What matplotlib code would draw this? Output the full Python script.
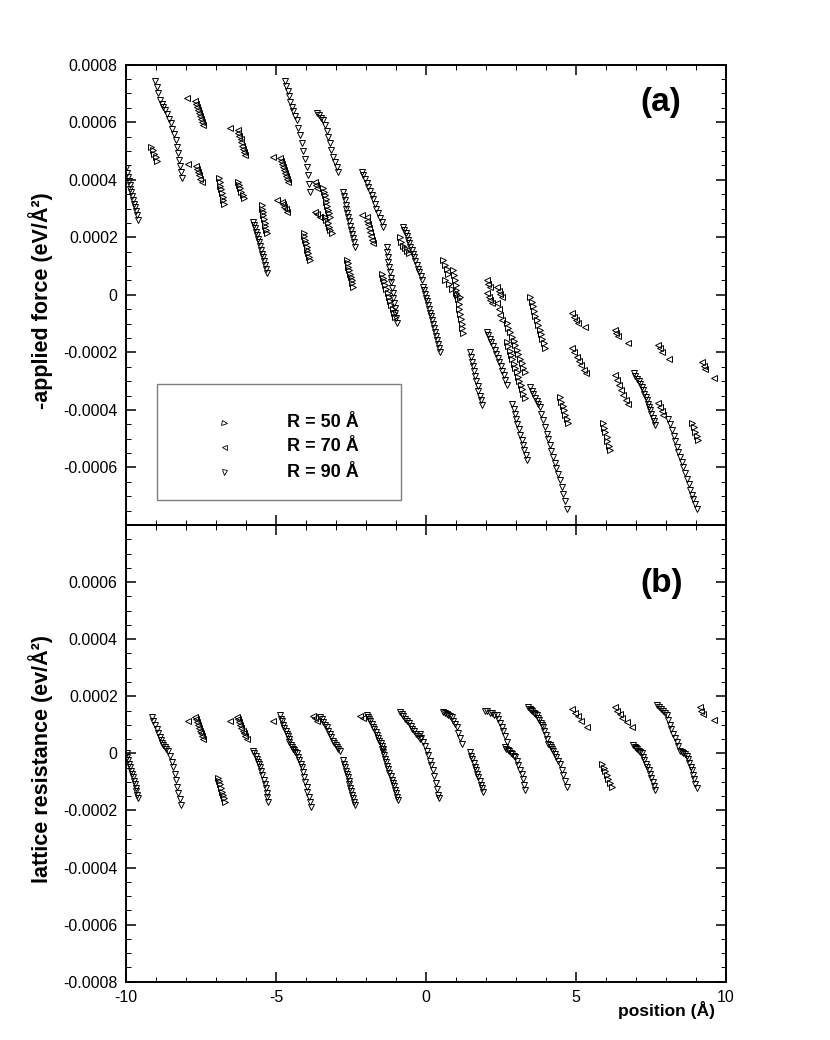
import matplotlib
matplotlib.use("Agg")
import matplotlib.pyplot as plt
from matplotlib.ticker import MultipleLocator, FuncFormatter
from matplotlib.patches import Rectangle

plt.rcParams['font.family'] = ['Liberation Sans', 'DejaVu Sans']

# values; y given in units of 1e-4 eV/A^2
YUNIT = 1e-4

# ---------------- (a) -applied force ----------------
top_r50_x = [
    -9.15, -9.10, -9.05, -9.00, -8.95,
    -6.90, -6.88, -6.85, -6.83, -6.80, -6.78, -6.75, -6.73,
    -6.27, -6.23, -6.19, -6.15, -6.11, -6.07,
    -5.48, -5.46, -5.44, -5.42, -5.40, -5.37, -5.35, -5.33, -5.31,
    -4.07, -4.05, -4.02, -4.00, -3.97, -3.95, -3.92, -3.90, -3.87,
    -3.43, -3.40, -3.37, -3.34, -3.32, -3.29, -3.26, -3.23, -3.20,
    -3.37, -3.32, -3.28, -3.23, -3.19, -3.14,
    -2.64, -2.61, -2.59, -2.56, -2.53, -2.50, -2.48, -2.45, -2.42,
    -1.48, -1.44, -1.40, -1.36, -1.32, -1.28, -1.23, -1.19, -1.15, -1.11, -1.07, -1.03,
    -0.87, -0.82, -0.77, -0.70, -0.62, -0.55,
    0.58, 0.63, 0.69, 0.74,
    0.63, 0.76, 0.88, 1.01, 1.13,
    0.91, 0.94, 0.96, 0.99, 1.01, 1.04, 1.06, 1.09, 1.11, 1.14, 1.16, 1.19, 1.21, 1.24,
    2.70, 2.75, 2.81, 2.86, 2.92, 2.97, 3.03, 3.08, 3.14, 3.19, 3.25, 3.30,
    2.70, 2.75, 2.79, 2.84, 2.88, 2.93, 2.97, 3.02, 3.06, 3.11, 3.16, 3.21, 3.25, 3.30,
    3.47, 3.52, 3.56, 3.61, 3.65, 3.70, 3.74, 3.79, 3.83, 3.88, 3.92, 3.97,
    4.47, 4.51, 4.56, 4.60, 4.64, 4.69, 4.73,
    5.90, 5.94, 5.98, 6.02, 6.05, 6.09, 6.13,
    8.87, 8.92, 8.97, 9.02, 9.07,
]
top_r50_y = [
    5.15, 5.03, 4.90, 4.78, 4.65,
    4.06, 3.93, 3.80, 3.67, 3.54, 3.41, 3.28, 3.15,
    3.92, 3.81, 3.70, 3.58, 3.47, 3.36,
    3.12, 3.00, 2.88, 2.76, 2.64, 2.51, 2.39, 2.27, 2.15,
    2.15, 2.03, 1.91, 1.79, 1.68, 1.56, 1.44, 1.32, 1.20,
    3.71, 3.59, 3.46, 3.34, 3.21, 3.09, 2.96, 2.84, 2.71,
    2.71, 2.60, 2.49, 2.37, 2.26, 2.15,
    1.20, 1.09, 0.97, 0.86, 0.74, 0.63, 0.51, 0.40, 0.28,
    0.74, 0.60, 0.47, 0.33, 0.19, 0.06, -0.08, -0.22, -0.35, -0.49, -0.62, -0.76,
    2.02, 1.85, 1.70, 1.62, 1.52, 1.44,
    1.21, 1.05, 0.90, 0.74,
    0.51, 0.37, 0.22, 0.07, -0.07,
    0.86, 0.69, 0.52, 0.35, 0.18, 0.01, -0.15, -0.32, -0.49, -0.66, -0.83, -1.00, -1.17, -1.34,
    -0.99, -1.14, -1.30, -1.45, -1.60, -1.76, -1.91, -2.07, -2.22, -2.37, -2.53, -2.68,
    -1.64, -1.79, -1.94, -2.09, -2.24, -2.39, -2.54, -2.69, -2.84, -2.99, -3.14, -3.29, -3.44, -3.59,
    -0.08, -0.24, -0.40, -0.56, -0.72, -0.88, -1.05, -1.21, -1.37, -1.53, -1.69, -1.85,
    -3.56, -3.71, -3.86, -4.01, -4.16, -4.31, -4.46,
    -4.46, -4.62, -4.77, -4.93, -5.09, -5.24, -5.40,
    -4.46, -4.61, -4.76, -4.90, -5.05,
]

top_r70_x = [
    -7.97, -7.70, -7.67, -7.63, -7.60, -7.57, -7.53, -7.50, -7.47, -7.43,
    -7.93, -7.67, -7.63, -7.59, -7.56, -7.52, -7.48,
    -6.53, -6.28, -6.25, -6.22, -6.18, -6.15, -6.12, -6.09, -6.06, -6.03,
    -5.10, -4.87, -4.84, -4.80, -4.77, -4.74, -4.70, -4.67, -4.63, -4.60,
    -4.98, -4.81, -4.77, -4.72, -4.68, -4.64,
    -3.70, -3.67, -3.63,
    -3.70, -3.62, -3.53,
    -2.14, -1.98, -1.95, -1.92, -1.89, -1.85, -1.82, -1.79, -1.76,
    2.03, 2.08, 2.13,
    2.03, 2.09, 2.14, 2.20,
    2.37, 2.42, 2.48, 2.53,
    2.37, 2.42, 2.48, 2.53,
    4.87, 4.93, 5.00, 5.07, 5.30,
    4.87, 4.95, 5.03, 5.10, 5.18, 5.26, 5.33,
    6.30, 6.35, 6.41, 6.74,
    6.30, 6.37, 6.44, 6.51, 6.58, 6.66, 6.73,
    7.73, 7.79, 7.85, 8.10,
    7.73, 7.79, 7.85, 7.91,
    9.20, 9.25, 9.30, 9.60,
]
top_r70_y = [
    6.84, 6.75, 6.64, 6.54, 6.43, 6.33, 6.22, 6.12, 6.01, 5.90,
    4.55, 4.48, 4.37, 4.26, 4.15, 4.04, 3.93,
    5.80, 5.73, 5.62, 5.51, 5.40, 5.30, 5.19, 5.08, 4.97, 4.86,
    4.79, 4.75, 4.65, 4.54, 4.44, 4.33, 4.23, 4.13, 4.02, 3.92,
    3.29, 3.23, 3.15, 3.06, 2.98, 2.89,
    3.93, 3.82, 3.71,
    2.89, 2.80, 2.71,
    2.77, 2.71, 2.58, 2.45, 2.32, 2.18, 2.05, 1.92, 1.79,
    0.51, 0.39, 0.27,
    0.05, -0.07, -0.18, -0.30,
    0.27, 0.15, 0.04, -0.08,
    -0.30, -0.49, -0.69, -0.88,
    -0.64, -0.76, -0.88, -0.99, -1.11,
    -1.85, -2.00, -2.15, -2.30, -2.45, -2.60, -2.72,
    -1.23, -1.33, -1.43, -1.67,
    -2.79, -2.96, -3.13, -3.30, -3.47, -3.64, -3.81,
    -1.75, -1.86, -1.97, -2.22,
    -3.77, -3.90, -4.03, -4.17,
    -2.34, -2.46, -2.58, -2.88,
]

top_r90_x = [
    -9.99, -9.97, -9.94, -9.91, -9.88, -9.85, -9.82, -9.79, -9.76, -9.73, -9.70, -9.67, -9.63, -9.59,
    -9.03, -8.98, -8.93, -8.87, -8.81, -8.76, -8.70, -8.64, -8.58, -8.51, -8.45, -8.39, -8.33, -8.29,
    -8.26, -8.22, -8.19, -8.16, -8.14,
    -5.77, -5.74, -5.70, -5.67, -5.64, -5.60, -5.57, -5.53, -5.50, -5.47, -5.43, -5.40, -5.37, -5.33, -5.30,
    -4.70, -4.66, -4.61, -4.57, -4.53, -4.48, -4.42, -4.37, -4.31, -4.25, -4.20, -4.14, -4.09, -4.03,
    -3.98, -3.94, -3.91, -3.87,
    -3.64, -3.57, -3.50, -3.42, -3.37, -3.31, -3.26, -3.20, -3.15, -3.09, -3.03, -2.98, -2.92,
    -2.77, -2.74, -2.71, -2.68, -2.65, -2.62, -2.59, -2.55, -2.52, -2.49, -2.46, -2.43, -2.40, -2.37,
    -2.14, -2.09, -2.03, -1.98, -1.92, -1.87, -1.81, -1.76, -1.70, -1.65, -1.59, -1.53, -1.48, -1.42,
    -1.31, -1.29, -1.27, -1.25, -1.22, -1.20, -1.18, -1.16, -1.13, -1.11, -1.09, -1.07, -1.04, -1.02,
    -1.00, -0.98,
    -0.76, -0.72, -0.68, -0.64, -0.60, -0.56, -0.52, -0.48, -0.43, -0.39, -0.35, -0.31, -0.27, -0.23,
    -0.18, -0.14,
    -0.09, -0.06, -0.02, 0.01, 0.04, 0.08, 0.11, 0.14, 0.18, 0.21, 0.24, 0.28, 0.31, 0.34, 0.38, 0.41,
    0.44, 0.47,
    1.47, 1.51, 1.54, 1.58, 1.61, 1.65, 1.68, 1.72, 1.75, 1.79, 1.82, 1.86,
    2.03, 2.08, 2.13, 2.18, 2.23, 2.29, 2.34, 2.39, 2.44, 2.49, 2.55, 2.60, 2.65, 2.70,
    2.87, 2.92, 2.96, 3.01, 3.05, 3.10, 3.14, 3.19, 3.23, 3.28, 3.32, 3.37,
    3.47, 3.53, 3.58, 3.64, 3.69, 3.75, 3.80, 3.85, 3.91, 3.96, 4.02, 4.07, 4.13, 4.18, 4.24, 4.30,
    4.35, 4.41, 4.47, 4.52, 4.58, 4.63, 4.69,
    6.93, 6.98, 7.03, 7.09, 7.14, 7.19, 7.24, 7.28, 7.32, 7.36, 7.40, 7.43, 7.47, 7.51, 7.55, 7.59, 7.63,
    8.08, 8.13, 8.19, 8.25, 8.30, 8.36, 8.41, 8.47, 8.52, 8.58, 8.64, 8.69, 8.75, 8.80, 8.86, 8.91,
    8.97, 9.02,
]
top_r90_y = [
    4.40, 4.25, 4.10, 3.96, 3.82, 3.69, 3.56, 3.43, 3.30, 3.17, 3.04, 2.91, 2.76, 2.60,
    7.44, 7.22, 7.00, 6.77, 6.65, 6.54, 6.42, 6.27, 6.12, 5.96, 5.77, 5.58, 5.38, 5.15,
    4.92, 4.68, 4.47, 4.26, 4.05,
    2.54, 2.43, 2.31, 2.19, 2.07, 1.95, 1.82, 1.69, 1.56, 1.43, 1.30, 1.17, 1.03, 0.89, 0.75,
    7.44, 7.26, 7.08, 6.90, 6.72, 6.54, 6.39, 6.23, 6.08, 5.81, 5.54, 5.27, 5.00, 4.72,
    4.45, 4.16, 3.87, 3.58,
    6.32, 6.24, 6.16, 6.08, 5.89, 5.69, 5.50, 5.27, 5.03, 4.80, 4.63, 4.45, 4.28,
    3.58, 3.43, 3.28, 3.14, 2.99, 2.84, 2.70, 2.55, 2.40, 2.26, 2.11, 1.96, 1.82, 1.67,
    4.28, 4.16, 4.03, 3.90, 3.76, 3.62, 3.47, 3.32, 3.16, 3.00, 2.84, 2.67, 2.52, 2.37,
    1.67, 1.49, 1.31, 1.14, 0.96, 0.78, 0.60, 0.43, 0.25, 0.07, -0.11, -0.28, -0.46, -0.64,
    -0.81, -0.99,
    2.36, 2.26, 2.15, 2.03, 1.91, 1.79, 1.67, 1.55, 1.43, 1.30, 1.17, 1.04, 0.91, 0.78,
    0.64, 0.51,
    0.28, 0.16, 0.03, -0.10, -0.23, -0.36, -0.49, -0.62, -0.75, -0.89, -1.02, -1.16, -1.30, -1.44, -1.57, -1.71,
    -1.84, -1.98,
    -1.98, -2.15, -2.32, -2.49, -2.66, -2.83, -3.00, -3.17, -3.33, -3.50, -3.67, -3.84,
    -1.29, -1.40, -1.52, -1.64, -1.77, -1.91, -2.05, -2.19, -2.33, -2.48, -2.63, -2.80, -2.97, -3.14,
    -3.78, -3.96, -4.14, -4.32, -4.50, -4.68, -4.86, -5.04, -5.22, -5.40, -5.57, -5.75,
    -3.20, -3.33, -3.45, -3.58, -3.70, -3.80, -3.90, -4.13, -4.36, -4.59, -4.82, -5.02, -5.22, -5.43, -5.63, -5.83,
    -6.03, -6.24, -6.44, -6.69, -6.93, -7.18, -7.43,
    -2.71, -2.81, -2.91, -3.01, -3.11, -3.21, -3.31, -3.43, -3.55, -3.67, -3.79, -3.90, -4.01, -4.14, -4.27, -4.40, -4.53,
    -4.30, -4.50, -4.70, -4.90, -5.09, -5.29, -5.46, -5.64, -5.81, -5.98, -6.18, -6.39, -6.59, -6.79, -6.95, -7.11,
    -7.27, -7.43,
]

# ---------------- (b) lattice resistance ----------------
bot_r50_x = [
    -6.92, -6.89, -6.86, -6.83, -6.79, -6.76, -6.73, -6.70,
    5.86, 5.92, 5.97, 6.03, 6.08, 6.14, 6.19,
]
bot_r50_y = [
    -0.85, -0.97, -1.09, -1.21, -1.34, -1.46, -1.58, -1.70,
    -0.36, -0.50, -0.63, -0.77, -0.91, -1.04, -1.18,
]

bot_r70_x = [
    -7.92, -7.70, -7.66, -7.63, -7.59, -7.56, -7.52, -7.49, -7.45, -7.42,
    -6.53, -6.31, -6.27, -6.23, -6.19, -6.15, -6.10, -6.06, -6.02, -5.98,
    -5.09,
    -3.77, -3.70, -3.63,
    -2.20, -2.10,
    4.86, 4.96, 5.06, 5.16, 5.36,
    6.30, 6.38, 6.46, 6.55, 6.70, 6.86,
    9.13, 9.18, 9.23, 9.60,
]
bot_r70_y = [
    1.13, 1.29, 1.19, 1.09, 1.00, 0.90, 0.80, 0.70, 0.61, 0.51,
    1.15, 1.29, 1.19, 1.09, 1.00, 0.90, 0.80, 0.70, 0.61, 0.51,
    1.15,
    1.30, 1.25, 1.15,
    1.30, 1.25,
    1.56, 1.43, 1.30, 1.15, 0.92,
    1.62, 1.50, 1.38, 1.25, 1.10, 0.92,
    1.62, 1.50, 1.38, 1.18,
]

bot_r90_x = [
    -9.98, -9.95, -9.92, -9.89, -9.86, -9.83, -9.80, -9.77, -9.74, -9.71, -9.68, -9.65, -9.62, -9.59,
    -9.14, -9.09, -9.03, -8.98, -8.92, -8.87, -8.83, -8.80, -8.76, -8.70, -8.65, -8.59, -8.53, -8.48,
    -8.42, -8.38, -8.34, -8.29, -8.25, -8.21, -8.17,
    -5.76, -5.72, -5.68, -5.64, -5.61, -5.57, -5.53, -5.49, -5.45, -5.41, -5.37, -5.34, -5.31, -5.29, -5.26,
    -4.87, -4.83, -4.79, -4.75, -4.72, -4.68, -4.64, -4.61, -4.58, -4.55, -4.51, -4.48, -4.44, -4.40,
    -4.35, -4.31, -4.27, -4.23, -4.18, -4.14, -4.10, -4.06, -4.02, -3.98, -3.95, -3.91, -3.88, -3.84,
    -3.53, -3.48, -3.42, -3.37, -3.31, -3.26, -3.20, -3.15, -3.09, -3.05, -3.00, -2.96, -2.92, -2.87,
    -2.76, -2.73, -2.70, -2.67, -2.64, -2.61, -2.58, -2.55, -2.52, -2.49, -2.46, -2.43, -2.40, -2.37,
    -1.98, -1.94, -1.90, -1.85, -1.81, -1.77, -1.72, -1.68, -1.64, -1.59, -1.55, -1.51, -1.46, -1.42,
    -1.48, -1.44, -1.40, -1.37, -1.33, -1.29, -1.25, -1.22, -1.18, -1.14, -1.10, -1.07, -1.03, -0.99,
    -0.95, -0.92,
    -0.87, -0.81, -0.75, -0.69, -0.63, -0.57, -0.51, -0.45, -0.39, -0.32, -0.26, -0.20,
    -0.20, -0.15, -0.09, -0.04, 0.02, 0.07, 0.13, 0.18, 0.24, 0.28, 0.33, 0.37, 0.41, 0.45,
    0.58, 0.63, 0.69, 0.75, 0.80, 0.86, 0.91, 0.97, 1.02, 1.08, 1.13, 1.19,
    1.47, 1.51, 1.55, 1.59, 1.63, 1.67, 1.71, 1.75, 1.79, 1.83, 1.87, 1.91,
    1.97, 2.05, 2.13, 2.21, 2.28, 2.36, 2.41, 2.47, 2.52, 2.58, 2.63, 2.69,
    2.63, 2.68, 2.73, 2.78, 2.82, 2.87, 2.92, 2.97, 3.02, 3.08, 3.13, 3.19, 3.23, 3.26, 3.30,
    3.41, 3.46, 3.50, 3.55, 3.60, 3.64, 3.69, 3.73, 3.78, 3.82, 3.87, 3.91, 3.95, 3.99,
    4.04, 4.08, 4.12, 4.16, 4.20, 4.24, 4.30, 4.35, 4.41, 4.47, 4.52, 4.58, 4.63, 4.69,
    6.91, 6.96, 7.00, 7.05, 7.10, 7.14, 7.19, 7.24, 7.28, 7.33, 7.38, 7.42, 7.47, 7.51, 7.55, 7.59, 7.63,
    7.71, 7.77, 7.83, 7.90, 7.96, 8.02, 8.07, 8.13, 8.18, 8.24, 8.30, 8.35, 8.41,
    8.47, 8.52, 8.58, 8.63, 8.69, 8.73, 8.78, 8.82, 8.86, 8.90, 8.94, 8.98, 9.02,
]
bot_r90_y = [
    0.00, -0.12, -0.24, -0.36, -0.48, -0.60, -0.72, -0.84, -0.96, -1.08, -1.20, -1.32, -1.45, -1.58,
    1.27, 1.13, 0.99, 0.85, 0.71, 0.57, 0.47, 0.38, 0.28, 0.22, 0.16, 0.10, -0.09, -0.29,
    -0.48, -0.71, -0.95, -1.18, -1.39, -1.61, -1.82,
    0.10, 0.00, -0.09, -0.19, -0.29, -0.38, -0.48, -0.63, -0.77, -0.92, -1.06, -1.22, -1.38, -1.54, -1.70,
    1.33, 1.22, 1.12, 1.01, 0.90, 0.80, 0.69, 0.60, 0.50, 0.41, 0.31, 0.22, 0.16, 0.11,
    0.05, 0.00, -0.12, -0.24, -0.36, -0.48, -0.66, -0.83, -1.01, -1.18, -1.36, -1.53, -1.71, -1.88,
    1.29, 1.20, 1.11, 1.01, 0.92, 0.80, 0.68, 0.57, 0.45, 0.38, 0.31, 0.23, 0.16, 0.10,
    -0.24, -0.36, -0.48, -0.60, -0.72, -0.84, -0.96, -1.09, -1.21, -1.33, -1.45, -1.57, -1.70, -1.82,
    1.33, 1.27, 1.20, 1.12, 1.03, 0.94, 0.84, 0.74, 0.64, 0.54, 0.44, 0.35, 0.26, 0.17,
    0.17, 0.05, -0.07, -0.19, -0.31, -0.43, -0.55, -0.67, -0.80, -0.92, -1.04, -1.16, -1.28, -1.40,
    -1.52, -1.64,
    1.44, 1.38, 1.31, 1.22, 1.13, 1.05, 0.96, 0.87, 0.78, 0.69, 0.60, 0.50,
    0.69, 0.54, 0.40, 0.25, 0.10, -0.07, -0.25, -0.42, -0.59, -0.81, -1.03, -1.25, -1.47, -1.55,
    1.44, 1.41, 1.37, 1.34, 1.30, 1.27, 1.15, 1.04, 0.92, 0.73, 0.53, 0.34,
    0.05, -0.08, -0.20, -0.33, -0.46, -0.59, -0.71, -0.84, -0.97, -1.10, -1.22, -1.35,
    1.50, 1.47, 1.43, 1.40, 1.36, 1.33, 1.20, 1.06, 0.93, 0.80, 0.60, 0.40,
    0.22, 0.17, 0.12, 0.07, 0.02, -0.03, -0.08, -0.13, -0.28, -0.42, -0.57, -0.71, -0.90, -1.10, -1.29,
    1.62, 1.57, 1.52, 1.47, 1.43, 1.38, 1.33, 1.25, 1.17, 1.08, 1.00, 0.92, 0.78, 0.63,
    0.49, 0.34, 0.28, 0.22, 0.16, 0.10, -0.02, -0.13, -0.25, -0.36, -0.57, -0.77, -0.98, -1.18,
    0.28, 0.23, 0.19, 0.14, 0.09, 0.05, 0.00, -0.12, -0.24, -0.36, -0.47, -0.59, -0.71, -0.86, -1.00, -1.15, -1.29,
    1.68, 1.61, 1.54, 1.47, 1.40, 1.33, 1.17, 1.01, 0.85, 0.69, 0.54, 0.40, 0.25,
    0.10, 0.06, 0.01, -0.03, -0.08, -0.21, -0.34, -0.46, -0.59, -0.75, -0.91, -1.07, -1.23,
]

series_labels = ['R = 50 Å', 'R = 70 Å', 'R = 90 Å']
series_markers = ['>', '<', 'v']

top_data = [(top_r50_x, top_r50_y), (top_r70_x, top_r70_y), (top_r90_x, top_r90_y)]
bot_data = [(bot_r50_x, bot_r50_y), (bot_r70_x, bot_r70_y), (bot_r90_x, bot_r90_y)]


def ylab(v, pos, hide):
    if abs(abs(v) - 0.0008) < 1e-9 and (v > 0) == (hide > 0):
        return ''
    if abs(v) < 1e-12:
        return '0'
    return '%.4f' % v


def style_axes(ax, hide):
    ax.set_xlim(-10, 10)
    ax.set_ylim(-0.0008, 0.0008)
    ax.xaxis.set_major_locator(MultipleLocator(5))
    ax.xaxis.set_minor_locator(MultipleLocator(1))
    ax.yaxis.set_major_locator(MultipleLocator(0.0002))
    ax.yaxis.set_minor_locator(MultipleLocator(0.00005))
    ax.yaxis.set_major_formatter(FuncFormatter(lambda v, p: ylab(v, p, hide)))
    ax.tick_params(which='both', direction='in', top=True, right=True, labelsize=11.5)
    ax.tick_params(which='major', length=7, width=1.1, pad=6)
    ax.tick_params(which='minor', length=3.5, width=0.7)
    for s in ax.spines.values():
        s.set_linewidth(1.4)


fig = plt.figure(figsize=(8.3, 10.4), dpi=100)
ax1 = fig.add_axes([0.1518, 0.4952, 0.7229, 0.4426])
ax2 = fig.add_axes([0.1518, 0.0560, 0.7229, 0.4392])

for (xs, ys), m in zip(top_data, series_markers):
    ax1.plot(xs, [v * YUNIT for v in ys], ls='none', marker=m, ms=4,
             mfc='none', mec='black', mew=0.7)
for (xs, ys), m in zip(bot_data, series_markers):
    ax2.plot(xs, [v * YUNIT for v in ys], ls='none', marker=m, ms=4,
             mfc='none', mec='black', mew=0.7)

style_axes(ax1, -1)
style_axes(ax2, 1)
ax1.tick_params(labelbottom=False)
ax2.xaxis.set_major_formatter(FuncFormatter(lambda v, p: '%g' % v))

ax1.set_ylabel('-applied force (eV/Å²)', fontsize=15.5, fontweight='bold')
ax2.set_ylabel('lattice resistance (ev/Å²)', fontsize=15.5, fontweight='bold')
ax1.yaxis.set_label_coords(-0.122, 0.487)
ax2.yaxis.set_label_coords(-0.122, 0.487)

fig.text(715 / 830, 1 - 1010 / 1040, 'position (Å)', ha='right', va='center',
         fontsize=12.5, fontweight='bold')

ax1.text(0.892, 0.917, '(a)', transform=ax1.transAxes, ha='center', va='center',
         fontsize=24, fontweight='bold')
ax2.text(0.892, 0.873, '(b)', transform=ax2.transAxes, ha='center', va='center',
         fontsize=24, fontweight='bold')

# legend box drawn by hand inside panel (a)
ax1.add_patch(Rectangle((0.052, 0.054), 0.406, 0.252, transform=ax1.transAxes,
                        fill=False, edgecolor='#7f7f7f', lw=1.0, zorder=3))
for lab, m, yy in zip(series_labels, series_markers, [0.2216, 0.1695, 0.115]):
    ax1.plot([0.163], [yy], transform=ax1.transAxes, ls='none', marker=m, ms=3.6,
             mfc='none', mec='black', mew=0.6)
    ax1.text(0.268, yy, lab, transform=ax1.transAxes, ha='left', va='center',
             fontsize=13, fontweight='bold')

fig.savefig('out.png', dpi=100)
